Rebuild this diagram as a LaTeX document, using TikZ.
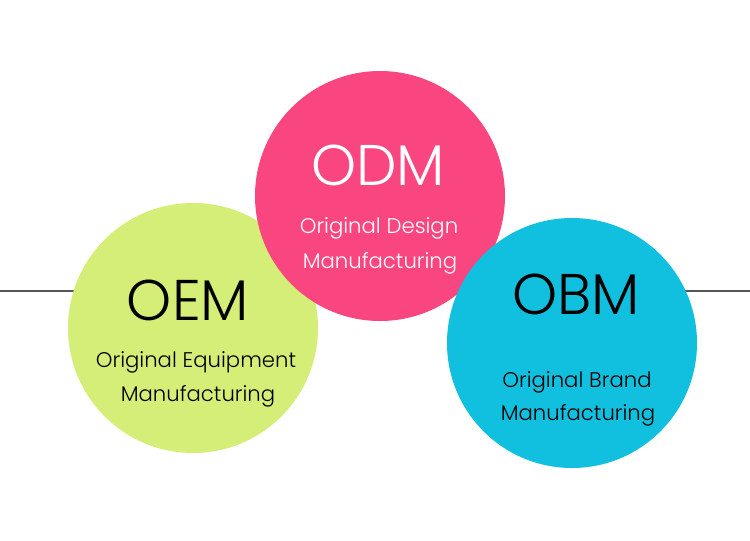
\documentclass[tikz,border=0pt]{standalone}
\usepackage{fontspec}
\setmainfont{Poppins}[UprightFont=* Light]
\definecolor{oemgreen}{RGB}{212,238,120}
\definecolor{odmpink}{RGB}{250,70,128}
\definecolor{obmcyan}{RGB}{16,192,222}
\definecolor{linegray}{RGB}{85,85,85}
\tikzset{
  disc/.style={circle, minimum size=250*0.75pt, inner sep=0pt, draw=none},
  bigabbr/.style={anchor=base, inner sep=0pt, font=\fontsize{43}{43}\selectfont},
  subline/.style={anchor=base, inner sep=0pt, font=\fontsize{15.9}{15.9}\selectfont},
}
\begin{document}
\begin{tikzpicture}[x=0.75pt,y=-0.75pt]
\useasboundingbox (0,0) rectangle (750,540);
\fill[white] (0,0) rectangle (750,540);
\coordinate (lineL) at (0,291);
\coordinate (lineR) at (750,291);
\draw[linegray, line width=1.3*0.75pt] (lineL) -- (lineR);
\node[disc, fill=oemgreen] (oem) at (193,328) {};
\node[disc, fill=odmpink] (odm) at (380,196) {};
\node[disc, fill=obmcyan] (obm) at (572,343) {};
% OEM
\node[bigabbr, text=black] (oemT) at (188,320) {OEM};
\node[subline, text=black] (oemA) at (196,367) {Original Equipment};
\node[subline, text=black] (oemB) at (198,401) {Manufacturing};
% ODM
\node[bigabbr, text=white] (odmT) at (378,185) {ODM};
\node[subline, text=white] (odmA) at (379,233) {Original Design};
\node[subline, text=white] (odmB) at (380,268) {Manufacturing};
% OBM
\node[bigabbr, text=black] (obmT) at (576,314) {OBM};
\node[subline, text=black] (obmA) at (577,387) {Original Brand};
\node[subline, text=black] (obmB) at (578,420) {Manufacturing};
\end{tikzpicture}
\end{document}
